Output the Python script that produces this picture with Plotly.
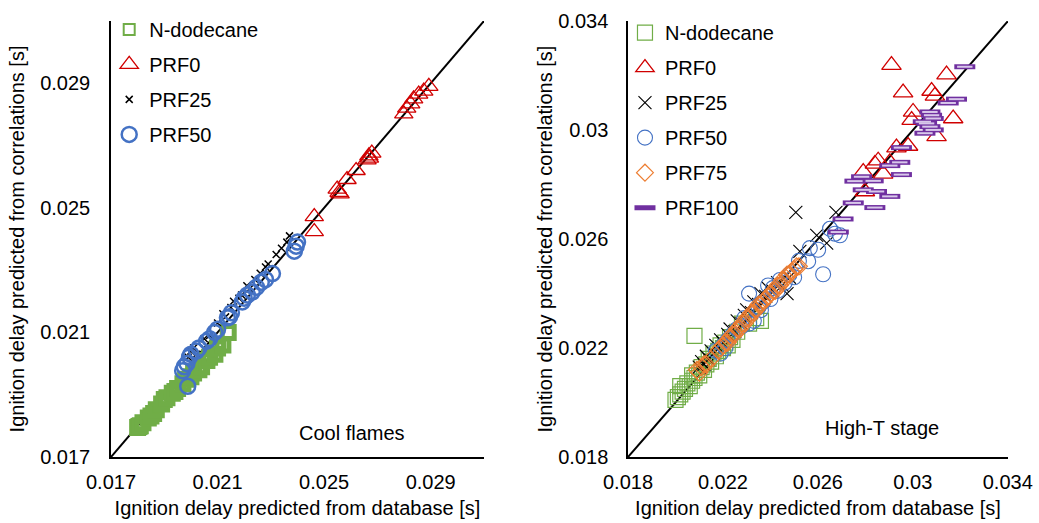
import plotly.graph_objects as go

# ---------------- data: left panel (Cool flames) ----------------
ndod_L_x = [0.0180, 0.01805, 0.0181, 0.0182, 0.0184, 0.0185, 0.0186, 0.0187, 0.0189, 0.0190, 0.0191, 0.0193, 0.0194,
            0.0195, 0.0197, 0.0198, 0.0200, 0.0201, 0.0203, 0.0204, 0.0206, 0.0207, 0.0209, 0.0210, 0.0212, 0.0214]
ndod_L_y = [0.01795, 0.01798, 0.0180, 0.0181, 0.01825, 0.01832, 0.0184, 0.01852, 0.0187, 0.01885, 0.0189, 0.01905, 0.0191,
            0.0192, 0.01935, 0.0195, 0.01958, 0.0197, 0.0198, 0.0199, 0.0201, 0.0202, 0.0203, 0.0205, 0.0206, 0.0210]
prf0_L_x = [0.02893, 0.02874, 0.02855, 0.02836, 0.02825, 0.02799, 0.02810, 0.02679, 0.02668, 0.02661, 0.02670, 0.02620,
            0.02586, 0.02549, 0.02556, 0.02560, 0.02463, 0.02463]
prf0_L_y = [0.02890, 0.02875, 0.02865, 0.02850, 0.02834, 0.02802, 0.02820, 0.02676, 0.02667, 0.02654, 0.02660, 0.02620,
            0.02591, 0.02560, 0.02550, 0.02545, 0.02472, 0.02424]
prf25_L_x = [0.0199, 0.0200, 0.0201, 0.0202, 0.0205, 0.0207, 0.0210, 0.0212, 0.0213, 0.0215, 0.0216, 0.0218, 0.0219,
             0.0221, 0.0222, 0.0224, 0.0226, 0.0228, 0.0229, 0.0232, 0.0234, 0.0236, 0.0237]
prf25_L_y = [0.0202, 0.0204, 0.0205, 0.0203, 0.0208, 0.0209, 0.0213, 0.0216, 0.0215, 0.0218, 0.0220, 0.0221, 0.0222,
             0.0225, 0.0224, 0.0227, 0.0229, 0.0231, 0.0232, 0.0235, 0.0237, 0.0239, 0.0241]
prf50_L_x = [0.01988, 0.01969, 0.01975, 0.01985, 0.01995, 0.0200, 0.02021, 0.0203, 0.02059, 0.0207, 0.02089, 0.0210,
             0.02137, 0.02145, 0.02152, 0.02193, 0.0220, 0.02212, 0.0223, 0.02246, 0.02264, 0.0228, 0.02306, 0.02388,
             0.02395, 0.0240]
prf50_L_y = [0.01927, 0.01977, 0.0199, 0.0200, 0.02021, 0.0203, 0.0204, 0.0205, 0.02072, 0.0208, 0.0210, 0.0211,
             0.02147, 0.0215, 0.02163, 0.02198, 0.0221, 0.0222, 0.0223, 0.02245, 0.02261, 0.0227, 0.02289, 0.02361,
             0.02377, 0.0239]

# ---------------- data: right panel (High-T stage) ----------------
ndod_R_x = [0.0200, 0.0201, 0.0202, 0.0202, 0.0203, 0.0204, 0.0205, 0.0206, 0.0207, 0.0207, 0.0208, 0.0209, 0.0210,
            0.0211, 0.0212, 0.0213, 0.0214, 0.0215, 0.0216, 0.0217, 0.0218, 0.0219, 0.0220, 0.0221, 0.0222, 0.0223,
            0.0224, 0.0226, 0.0228, 0.0231, 0.0234, 0.0236, 0.0208]
ndod_R_y = [0.0201, 0.0202, 0.0203, 0.0206, 0.0204, 0.0205, 0.0207, 0.0206, 0.0208, 0.0210, 0.0209, 0.0211, 0.0210,
            0.0213, 0.0212, 0.0214, 0.0216, 0.0215, 0.0218, 0.0217, 0.0219, 0.0221, 0.0220, 0.0222, 0.0221, 0.0224,
            0.0223, 0.0226, 0.0229, 0.0229, 0.0231, 0.0230, 0.02245]
prf0_R_x = [0.02910, 0.03142, 0.02959, 0.03079, 0.03093, 0.03170, 0.03001, 0.02995, 0.03100, 0.02931, 0.02980,
            0.02854, 0.02840, 0.02903, 0.02875, 0.02791, 0.02798]
prf0_R_y = [0.03239, 0.03204, 0.03138, 0.03144, 0.03126, 0.03043, 0.03067, 0.03037, 0.02977, 0.02936, 0.02942,
            0.02888, 0.02876, 0.02882, 0.02840, 0.02846, 0.02775]
prf25_R_x = [0.0210, 0.0211, 0.0212, 0.0213, 0.0214, 0.0215, 0.0216, 0.0217, 0.0219, 0.0220, 0.0222, 0.0223, 0.0225,
             0.0226, 0.0228, 0.0229, 0.0230, 0.0232, 0.0233, 0.0235, 0.0236, 0.0238, 0.0239, 0.0241, 0.0243, 0.0245,
             0.0247, 0.0248, 0.02507, 0.02524, 0.02595, 0.02637, 0.02676]
prf25_R_y = [0.0213, 0.0215, 0.0214, 0.0217, 0.0216, 0.0219, 0.0218, 0.0221, 0.0223, 0.0222, 0.0225, 0.0227, 0.0226,
             0.0230, 0.0229, 0.0232, 0.0234, 0.0233, 0.0237, 0.0236, 0.0240, 0.0239, 0.0242, 0.0241, 0.0244, 0.0243,
             0.0240, 0.0246, 0.02698, 0.02555, 0.02614, 0.02585, 0.02698]
prf50_R_x = [0.0217, 0.0219, 0.0220, 0.0221, 0.0222, 0.0224, 0.0226, 0.0228, 0.0229, 0.0231, 0.0231, 0.0233, 0.0235,
             0.0236, 0.0237, 0.0239, 0.0240, 0.0241, 0.0243, 0.0244, 0.0246, 0.0248, 0.0250, 0.0252, 0.02559, 0.02566,
             0.02601, 0.02622, 0.02651, 0.02672, 0.02693]
prf50_R_y = [0.0219, 0.0218, 0.0221, 0.0220, 0.0223, 0.0225, 0.0227, 0.0228, 0.0231, 0.0229, 0.0240, 0.0230, 0.0235,
             0.0234, 0.0237, 0.0243, 0.0238, 0.0242, 0.0241, 0.0245, 0.0244, 0.0247, 0.0246, 0.0252, 0.02519, 0.02567,
             0.02561, 0.02471, 0.02638, 0.02620, 0.02614]
prf75_R_x = [0.0209, 0.0210, 0.0211, 0.0212, 0.0213, 0.0215, 0.0218, 0.0219, 0.0220, 0.0221, 0.0222, 0.0223, 0.0224,
             0.0225, 0.0226, 0.0227, 0.0228, 0.0229, 0.0230, 0.0231, 0.0232, 0.0233, 0.0234, 0.0235, 0.0236, 0.0237,
             0.0238, 0.0239, 0.0240, 0.0241, 0.0242, 0.0243, 0.0244, 0.0245, 0.0246, 0.0247, 0.0248, 0.0249, 0.0250,
             0.0251, 0.0252]
prf75_R_y = [0.0212, 0.0211, 0.0213, 0.0214, 0.0214, 0.0216, 0.0219, 0.0220, 0.0221, 0.0222, 0.0222, 0.0224, 0.0225,
             0.0225, 0.0227, 0.0227, 0.0229, 0.0229, 0.0231, 0.0231, 0.0233, 0.0233, 0.0234, 0.0236, 0.0236, 0.0237,
             0.0238, 0.0239, 0.0240, 0.0241, 0.0241, 0.0243, 0.0243, 0.0245, 0.0245, 0.0247, 0.0247, 0.0248, 0.0249,
             0.0250, 0.0250]
prf100_R_x = [0.03219, 0.03184, 0.03149, 0.03072, 0.03079, 0.03086, 0.03044, 0.03058, 0.03072, 0.03086, 0.03051,
              0.02952, 0.02945, 0.02903, 0.02952, 0.02784, 0.02756, 0.02833, 0.02791, 0.02847, 0.02903, 0.02840,
              0.02749, 0.02706, 0.02686]
prf100_R_y = [0.03233, 0.03114, 0.03100, 0.03067, 0.03055, 0.03043, 0.03031, 0.03025, 0.03013, 0.03001, 0.02989,
              0.02936, 0.02882, 0.02870, 0.02837, 0.02829, 0.02813, 0.02814, 0.02781, 0.02775, 0.02757, 0.02716,
              0.02733, 0.02674, 0.02626]

# axis ranges / ticks / parity lines
range_L = [0.017, 0.031]
range_R = [0.018, 0.03401]
ticks_L = [0.017, 0.021, 0.025, 0.029]
ticks_R = [0.018, 0.022, 0.026, 0.030, 0.034]
ticktext_L = ["0.017", "0.021", "0.025", "0.029"]
ticktext_R = ["0.018", "0.022", "0.026", "0.03", "0.034"]
parity_L = [0.017, 0.031]
parity_R = [0.018, 0.034]

GREEN = "#70AD47"
RED = "#D00000"
BLUE = "#4472C4"
ORANGE = "#ED7D31"
PURPLE = "#7030A0"
LAVENDER = "#D8C8EA"
FONT = "Arial, Liberation Sans, sans-serif"

fig = go.Figure()

# parity lines (beneath markers)
fig.add_trace(go.Scatter(x=parity_L, y=parity_L, mode="lines", line=dict(color="black", width=2),
                         showlegend=False, hoverinfo="skip", xaxis="x", yaxis="y"))
fig.add_trace(go.Scatter(x=parity_R, y=parity_R, mode="lines", line=dict(color="black", width=2),
                         showlegend=False, hoverinfo="skip", xaxis="x2", yaxis="y2"))


def add(x, y, name, xa, ya, legend, symbol, size, color, lw, showlegend=True):
    fig.add_trace(go.Scatter(
        x=x, y=y, mode="markers", name=name, xaxis=xa, yaxis=ya, legend=legend,
        legendgroup=legend + name, showlegend=showlegend,
        marker=dict(symbol=symbol, size=size, color=color, line=dict(color=color, width=lw))))


# left panel (N-dodecane: thick markers on chart, thinner legend key)
add(ndod_L_x, ndod_L_y, "N-dodecane", "x", "y", "legend", "square-open", 12, GREEN, 5, showlegend=False)
add([None], [None], "N-dodecane", "x", "y", "legend", "square-open", 11, GREEN, 2)
add(prf0_L_x, prf0_L_y, "PRF0", "x", "y", "legend", "triangle-up-open", 16, RED, 1.3)
add(prf25_L_x, prf25_L_y, "PRF25", "x", "y", "legend", "x-thin-open", 7, "black", 1.5)
add(prf50_L_x, prf50_L_y, "PRF50", "x", "y", "legend", "circle-open", 15, BLUE, 2.5)

# right panel
add(ndod_R_x, ndod_R_y, "N-dodecane", "x2", "y2", "legend2", "square-open", 15, GREEN, 1.2)
add(prf0_R_x, prf0_R_y, "PRF0", "x2", "y2", "legend2", "triangle-up-open", 17, RED, 1.3)
add(prf25_R_x, prf25_R_y, "PRF25", "x2", "y2", "legend2", "x-thin-open", 13, "black", 1.1)
add(prf50_R_x, prf50_R_y, "PRF50", "x2", "y2", "legend2", "circle-open", 15, BLUE, 1.1)
add(prf75_R_x, prf75_R_y, "PRF75", "x2", "y2", "legend2", "diamond-open", 13, ORANGE, 1.2)
add(prf100_R_x, prf100_R_y, "PRF100", "x2", "y2", "legend2", "line-ew-open", 15, PURPLE, 5)
add(prf100_R_x, prf100_R_y, "PRF100", "x2", "y2", "legend2", "line-ew-open", 11, LAVENDER, 2, showlegend=False)

axis_common = dict(showline=True, linecolor="black", linewidth=1.5, showgrid=False, zeroline=False,
                   ticks="", mirror=False, tickfont=dict(size=20, color="black", family=FONT),
                   automargin=False, ticklabeloverflow="allow")

fig.update_layout(
    width=1039, height=523,
    margin=dict(l=111, r=31, t=10, b=66),
    paper_bgcolor="white", plot_bgcolor="white",
    font=dict(family=FONT, size=20, color="black"),
    xaxis=dict(domain=[0, 0.4158], range=range_L, tickvals=ticks_L, ticktext=ticktext_L, anchor="y",
               ticklabelstandoff=6,
               title=dict(text="Ignition delay predicted from database [s]", standoff=9,
                          font=dict(size=20)), **axis_common),
    yaxis=dict(domain=[0, 1], range=range_L, tickvals=ticks_L, ticktext=ticktext_L, anchor="x",
               ticklabelstandoff=15,
               title=dict(text="Ignition delay predicted from correlations [s]", standoff=10,
                          font=dict(size=20)), **axis_common),
    xaxis2=dict(domain=[0.5764, 1], range=range_R, tickvals=ticks_R, ticktext=ticktext_R, anchor="y2",
                ticklabelstandoff=6,
                title=dict(text="Ignition delay predicted from database [s]", standoff=9,
                           font=dict(size=20)), **axis_common),
    yaxis2=dict(domain=[0, 1], range=range_R, tickvals=ticks_R, ticktext=ticktext_R, anchor="x2",
                ticklabelstandoff=14,
                title=dict(text="Ignition delay predicted from correlations [s]", standoff=0,
                           font=dict(size=20)), **axis_common),
    legend=dict(x=-0.002, y=1.0255, xanchor="left", yanchor="top", bgcolor="rgba(0,0,0,0)",
                font=dict(size=20, color="black"), tracegroupgap=6, traceorder="grouped"),
    legend2=dict(x=0.573, y=1.018, xanchor="left", yanchor="top", bgcolor="rgba(0,0,0,0)",
                 font=dict(size=20, color="black"), tracegroupgap=6, traceorder="grouped"),
    annotations=[
        dict(text="Cool flames", x=0.02605, y=0.01776, xref="x", yref="y", showarrow=False,
             font=dict(size=20, color="black")),
        dict(text="High-T stage", x=0.02870, y=0.01907, xref="x2", yref="y2", showarrow=False,
             font=dict(size=20, color="black")),
    ],
)

fig.write_html("out.html", config={"displayModeBar": False},
               post_script="document.body.style.margin='0';document.body.style.overflow='hidden';")
